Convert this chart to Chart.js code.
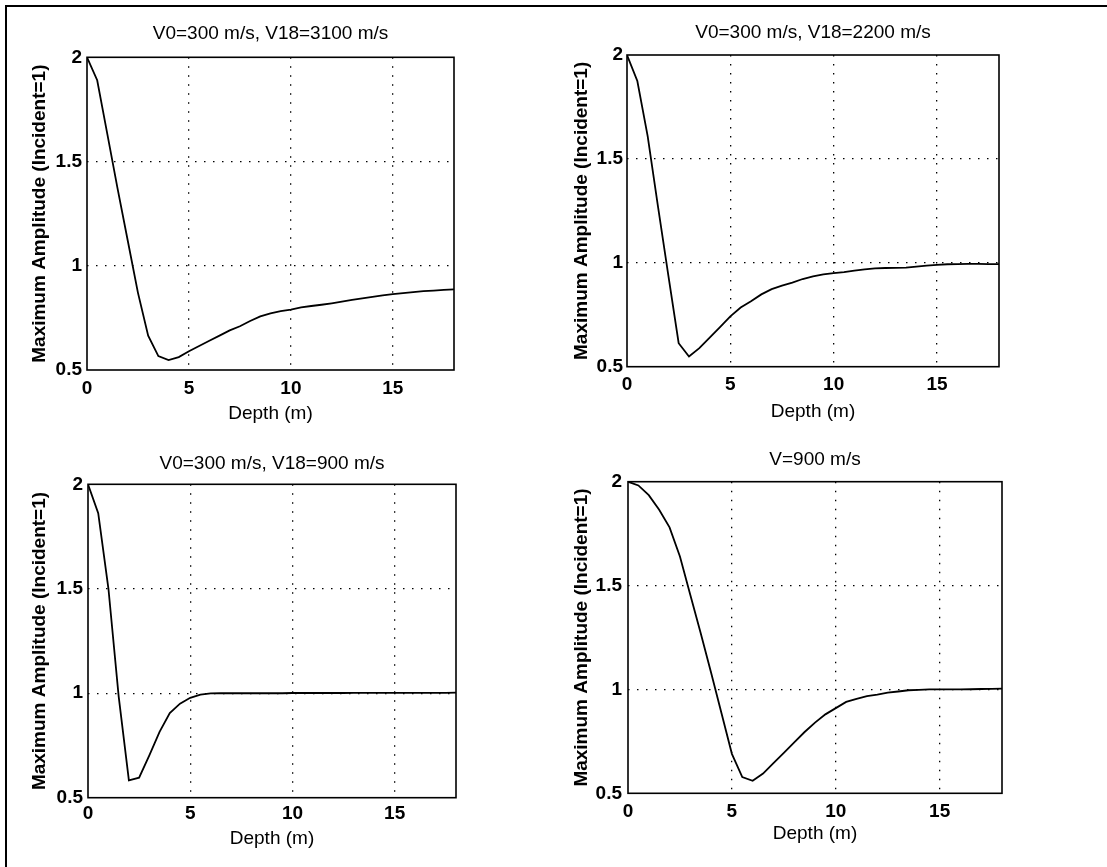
<!DOCTYPE html>
<html><head><meta charset="utf-8">
<script src="https://cdn.jsdelivr.net/npm/chart.js@4.4.1/dist/chart.umd.min.js"></script>
<style>
html,body{margin:0;padding:0;background:#fff;width:1107px;height:867px;overflow:hidden;position:relative}
#frame{position:absolute;left:5px;top:5px;width:1300px;height:1100px;border-left:2px solid #000;border-top:2px solid #000}
canvas{position:absolute}
</style></head><body>
<div id="frame"></div>
<canvas id="c1"></canvas>
<canvas id="c2"></canvas>
<canvas id="c3"></canvas>
<canvas id="c4"></canvas>
<script>
// ---------- data ----------
const depth = [0,0.5,1,1.5,2,2.5,3,3.5,4,4.5,5,5.5,6,6.5,7,7.5,8,8.5,9,9.5,10,10.5,11,11.5,12,12.5,13,13.5,14,14.5,15,15.5,16,16.5,17,17.5,18];
const ampV18_3100 = [2.0,1.89,1.63,1.37,1.12,0.87,0.665,0.567,0.548,0.562,0.59,0.615,0.64,0.665,0.69,0.71,0.735,0.757,0.772,0.782,0.79,0.80,0.807,0.813,0.82,0.828,0.836,0.844,0.851,0.858,0.864,0.869,0.874,0.878,0.881,0.884,0.887];
const ampV18_2200 = [2.0,1.875,1.61,1.27,0.94,0.613,0.549,0.589,0.64,0.69,0.742,0.785,0.815,0.848,0.873,0.89,0.905,0.922,0.935,0.944,0.95,0.955,0.962,0.968,0.973,0.975,0.976,0.977,0.982,0.986,0.99,0.993,0.994,0.995,0.995,0.994,0.994];
const ampV18_900 = [2.0,1.862,1.5,0.985,0.583,0.596,0.703,0.815,0.905,0.95,0.978,0.993,0.999,1.0,1.0,1.0,1.0,1.0,1.0,1.0,1.001,1.001,1.001,1.001,1.001,1.001,1.002,1.002,1.002,1.002,1.002,1.002,1.002,1.002,1.002,1.002,1.003];
const ampV900 = [2.0,1.982,1.935,1.865,1.78,1.64,1.455,1.27,1.08,0.885,0.69,0.578,0.56,0.595,0.645,0.695,0.745,0.795,0.84,0.88,0.91,0.94,0.955,0.968,0.975,0.985,0.99,0.996,0.998,1.0,1.0,1.0,1.0,1.001,1.002,1.003,1.004];
const panelTitles = ['V0=300 m/s, V18=3100 m/s','V0=300 m/s, V18=2200 m/s','V0=300 m/s, V18=900 m/s','V=900 m/s'];
const panelSeries = [ampV18_3100, ampV18_2200, ampV18_900, ampV900];
const xTicks = [0,5,10,15];
const xTickLabels = ['0','5','10','15'];
const yTicks = [0.5,1,1.5,2];
const yTickLabels = ['0.5','1','1.5','2'];
const xMin = 0, xMax = 18, yMin = 0.5, yMax = 2;
const xTitle = 'Depth (m)';
const yTitle = 'Maximum Amplitude (Incident=1)';

// ---------- layout (positions only) ----------
const geo = [
  {id:'c1', cx:0,   cy:0,   cw:541, ch:433, L:87,  T:57.3,  B:370,   titleY:33.3,  ylabX:40,    xlabY:413.3, xtickY:388.3, ygap:5},
  {id:'c2', cx:560, cy:0,   cw:506, ch:433, L:627, T:55,    B:366.7, titleY:32.3,  ylabX:581.7, xlabY:411.7, xtickY:385,   ygap:4},
  {id:'c3', cx:0,   cy:433, cw:544, ch:434, L:88,  T:484.3, B:797.7, titleY:463.3, ylabX:40,    xlabY:838.3, xtickY:814,   ygap:5},
  {id:'c4', cx:560, cy:433, cw:510, ch:434, L:628, T:481.7, B:793.3, titleY:459.3, ylabX:581.7, xlabY:833.3, xtickY:811.7, ygap:6}
];
const FONT = "'Liberation Sans', Arial, Helvetica, sans-serif";
const FS = 19, LH = FS * 1.2;

const boxPlugin = {
  id: 'box',
  afterDatasetsDraw(chart) {
    const a = chart.chartArea, c = chart.ctx;
    c.save();
    c.strokeStyle = '#000'; c.lineWidth = 1.6; c.setLineDash([]);
    c.strokeRect(a.left, a.top, a.right - a.left, a.bottom - a.top);
    c.restore();
  }
};

geo.forEach((g, i) => {
  const cv = document.getElementById(g.id);
  cv.width = g.cw; cv.height = g.ch;
  cv.style.left = g.cx + 'px'; cv.style.top = g.cy + 'px';
  cv.style.width = g.cw + 'px'; cv.style.height = g.ch + 'px';
  const yW = g.L - g.cx;
  const tPadTop = g.titleY - g.cy - LH / 2;
  const tPadBot = g.T - g.cy - LH - tPadTop;
  const xH = g.cy + g.ch - g.B;
  const xTitlePadBot = g.cy + g.ch - g.xlabY - LH / 2;
  const xTickPad = g.xtickY - g.B - LH / 2;
  const yTitlePadTop = g.ylabX - g.cx - LH / 2;
  const vals = panelSeries[i];
  new Chart(cv, {
    type: 'line',
    data: {
      datasets: [{
        data: depth.map((d, k) => ({x: d, y: vals[k]})),
        borderColor: '#000', borderWidth: 1.8, pointRadius: 0, tension: 0, fill: false
      }]
    },
    options: {
      responsive: false, animation: false, devicePixelRatio: 1,
      layout: {padding: {left: 0, right: yW, top: 0, bottom: 0}},
      plugins: {
        legend: {display: false}, tooltip: {enabled: false},
        title: {display: true, fullSize: false, text: panelTitles[i], color: '#000',
          font: {family: FONT, size: FS, weight: 'normal'},
          padding: {top: tPadTop, bottom: tPadBot}}
      },
      scales: {
        x: {
          type: 'linear', min: xMin, max: xMax,
          afterBuildTicks: s => { s.ticks = xTicks.map(v => ({value: v})); },
          afterFit: s => { s.height = xH; },
          grid: {drawTicks: false, lineWidth: 1.3,
            color: c => (c.tick && (c.tick.value === xMin || c.tick.value === xMax)) ? 'rgba(0,0,0,0)' : '#000'},
          border: {display: false, dash: [1.5, 7.5]},
          ticks: {padding: xTickPad, color: '#000', maxRotation: 0, autoSkip: false,
            callback: v => { const k = xTicks.indexOf(v); return k >= 0 ? xTickLabels[k] : ''; },
            font: {family: FONT, size: FS, weight: 'bold'}},
          title: {display: true, text: xTitle, color: '#000',
            font: {family: FONT, size: FS, weight: 'normal'}, padding: {top: 0, bottom: xTitlePadBot}}
        },
        y: {
          type: 'linear', min: yMin, max: yMax,
          afterBuildTicks: s => { s.ticks = yTicks.map(v => ({value: v})); },
          afterFit: s => { s.width = yW; },
          grid: {drawTicks: false, lineWidth: 1.3,
            color: c => (c.tick && (c.tick.value === yMin || c.tick.value === yMax)) ? 'rgba(0,0,0,0)' : '#000'},
          border: {display: false, dash: [1.5, 7.5]},
          ticks: {padding: g.ygap, color: '#000', autoSkip: false,
            callback: v => { const k = yTicks.indexOf(v); return k >= 0 ? yTickLabels[k] : ''; },
            font: {family: FONT, size: FS, weight: 'bold'}},
          title: {display: true, text: yTitle, color: '#000',
            font: {family: FONT, size: FS, weight: 'bold'}, padding: {top: yTitlePadTop, bottom: 0}}
        }
      }
    },
    plugins: [boxPlugin]
  });
});
</script>
</body></html>
